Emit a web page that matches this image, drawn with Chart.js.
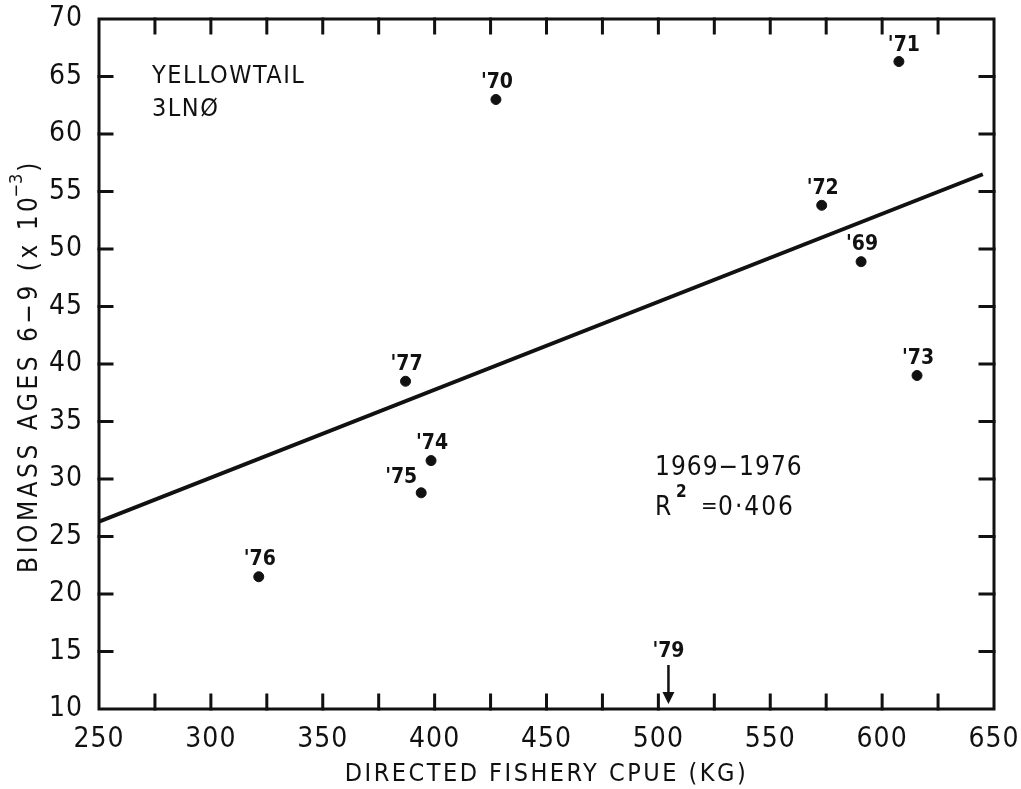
<!DOCTYPE html>
<html lang="en">
<head>
    <meta charset="UTF-8">
    <title>Yellowtail 3LNO - Biomass vs CPUE</title>
    <script src="https://cdn.jsdelivr.net/npm/chart.js@4.4.0/dist/chart.umd.min.js"></script>
    <style>
        html, body { margin: 0; padding: 0; background: #fff; }
        #wrap { width: 1021px; height: 789px; }
    </style>
</head>
<body>
    <div id="wrap"><canvas id="cpueChart" width="1021" height="789"></canvas></div>

    <script>
        // point data
        const years = ["'69", "'70", "'71", "'72", "'73", "'74", "'75", "'76", "'77"];
        const cpue = [590.6, 427.4, 607.5, 573, 615.6, 398.4, 394, 321.4, 387];
        const biomass = [48.9, 63.0, 66.3, 53.8, 39.0, 31.6, 28.8, 21.5, 38.5];

        // fitted line 1969-1976 (end points)
        const fitX = [250, 645];
        const fitY = [26.3, 56.5];

        // '79 marker on the x axis
        const arrow79 = { label: "'79", x: 504.5 };

        const xTickLabels = [250, 300, 350, 400, 450, 500, 550, 600, 650];
        const yTickLabels = [10, 15, 20, 25, 30, 35, 40, 45, 50, 55, 60, 65, 70];

        const xTitle = 'DIRECTED FISHERY CPUE (KG)';
        const yTitle = ['BIOMASS AGES 6\u22129 (x 10', '\u22123', ')'];

        const ink = '#111';
        const fontFam = '"DejaVu Sans Condensed", "DejaVu Sans", sans-serif';

        const framePlugin = {
            id: 'frame',
            beforeDraw(chart) {
                chart.ctx.letterSpacing = '1px';
            },
            afterDraw(chart) {
                const ctx = chart.ctx;
                const a = chart.chartArea;
                const xs = chart.scales.x, ys = chart.scales.y;
                ctx.save();
                ctx.strokeStyle = ink;
                ctx.fillStyle = ink;
                ctx.lineWidth = 3;
                ctx.lineCap = 'square';
                ctx.strokeRect(a.left, a.top, a.right - a.left, a.bottom - a.top);

                // inward ticks
                ctx.beginPath();
                for (let v = 275; v < 650; v += 25) {
                    const px = xs.getPixelForValue(v);
                    ctx.moveTo(px, a.bottom); ctx.lineTo(px, a.bottom - 14);
                    ctx.moveTo(px, a.top); ctx.lineTo(px, a.top + 14);
                }
                for (let v = 15; v < 70; v += 5) {
                    const py = ys.getPixelForValue(v);
                    ctx.moveTo(a.left, py); ctx.lineTo(a.left + 13, py);
                    ctx.moveTo(a.right, py); ctx.lineTo(a.right - 14, py);
                }
                ctx.stroke();

                // year labels
                ctx.letterSpacing = '0px';
                ctx.font = 'bold 21px ' + fontFam;
                ctx.textAlign = 'center';
                ctx.textBaseline = 'middle';
                years.forEach((yr, i) => {
                    const px = xs.getPixelForValue(cpue[i]);
                    const py = ys.getPixelForValue(biomass[i]);
                    if (yr === "'75") ctx.fillText(yr, px - 20, py - 15);
                    else if (yr === "'71") ctx.fillText(yr, px + 5, py - 16);
                    else ctx.fillText(yr, px + 1, py - 17);
                });

                // '79 arrow
                const ax = xs.getPixelForValue(arrow79.x);
                ctx.fillText(arrow79.label, ax, a.bottom - 57);
                ctx.lineWidth = 2.5;
                ctx.lineCap = 'butt';
                ctx.beginPath();
                ctx.moveTo(ax, a.bottom - 44);
                ctx.lineTo(ax, a.bottom - 10);
                ctx.stroke();
                ctx.beginPath();
                ctx.moveTo(ax - 6, a.bottom - 17);
                ctx.lineTo(ax, a.bottom - 5);
                ctx.lineTo(ax + 6, a.bottom - 17);
                ctx.closePath();
                ctx.fill();

                // annotations
                ctx.letterSpacing = '1.5px';
                ctx.textAlign = 'left';
                ctx.font = '25px ' + fontFam;
                ctx.fillText('YELLOWTAIL', a.left + 53, a.top + 57);
                ctx.fillText('3LNØ', a.left + 53, a.top + 90);

                ctx.letterSpacing = '1px';
                ctx.font = '26px ' + fontFam;
                ctx.fillText('1969\u22121976', 655, 468);
                ctx.fillText('R', 655, 508);
                ctx.letterSpacing = '2px';
                ctx.fillText('0\u00b7406', 718, 508);
                ctx.letterSpacing = '0px';
                ctx.font = '22px ' + fontFam;
                ctx.fillText('=', 701, 507);
                ctx.font = 'bold 17px ' + fontFam;
                ctx.fillText('2', 676, 493);

                // axis titles
                ctx.letterSpacing = '2.5px';
                ctx.font = '25px ' + fontFam;
                ctx.textAlign = 'center';
                ctx.fillText(xTitle, (a.left + a.right) / 2, 774);

                ctx.translate(30, (a.top + a.bottom) / 2 + 2);
                ctx.rotate(-Math.PI / 2);
                ctx.textAlign = 'left';
                ctx.letterSpacing = '3.5px';
                const mainFont = '26px ' + fontFam;
                const supFont = '18px ' + fontFam;
                ctx.font = mainFont;
                const mainW = ctx.measureText(yTitle[0]).width - 4;
                const endW = ctx.measureText(yTitle[2]).width;
                ctx.font = supFont;
                ctx.letterSpacing = '0px';
                const supW = ctx.measureText(yTitle[1]).width + 2;
                let cx = -(mainW + supW + endW) / 2;
                ctx.font = mainFont;
                ctx.letterSpacing = '3.5px';
                ctx.fillText(yTitle[0], cx, 0);
                cx += mainW;
                ctx.font = supFont;
                ctx.letterSpacing = '0px';
                ctx.fillText(yTitle[1], cx, -13);
                cx += supW;
                ctx.font = mainFont;
                ctx.fillText(yTitle[2], cx, 0);
                ctx.restore();
            }
        };

        new Chart(document.getElementById('cpueChart'), {
            type: 'scatter',
            data: {
                datasets: [{
                    label: 'Biomass ages 6-9',
                    data: cpue.map((x, i) => ({ x: x, y: biomass[i] })),
                    backgroundColor: ink,
                    borderColor: ink,
                    pointRadius: 5,
                    pointHoverRadius: 5
                }, {
                    type: 'line',
                    label: 'Fit 1969-1976',
                    data: fitX.map((x, i) => ({ x: x, y: fitY[i] })),
                    borderColor: ink,
                    borderWidth: 4,
                    pointRadius: 0,
                    fill: false
                }]
            },
            options: {
                responsive: false,
                animation: false,
                layout: { padding: { top: 19, right: 27, left: 0, bottom: 0 } },
                plugins: { legend: { display: false }, tooltip: { enabled: false } },
                scales: {
                    x: {
                        type: 'linear',
                        min: 250, max: 650,
                        afterFit(s) { s.height = 80; s.paddingLeft = 0; s.paddingRight = 0; },
                        afterBuildTicks(s) { s.ticks = xTickLabels.map(v => ({ value: v })); },
                        grid: { display: false, drawTicks: false },
                        border: { display: false },
                        ticks: { padding: 14, color: ink, font: { family: fontFam, size: 28 } }
                    },
                    y: {
                        type: 'linear',
                        min: 10, max: 70,
                        afterFit(s) { s.width = 99; s.paddingTop = 0; s.paddingBottom = 0; },
                        afterBuildTicks(s) { s.ticks = yTickLabels.map(v => ({ value: v })); },
                        grid: { display: false, drawTicks: false },
                        border: { display: false },
                        ticks: { padding: 16, color: ink, font: { family: fontFam, size: 28 } }
                    }
                }
            },
            plugins: [framePlugin]
        });
    </script>
</body>
</html>
